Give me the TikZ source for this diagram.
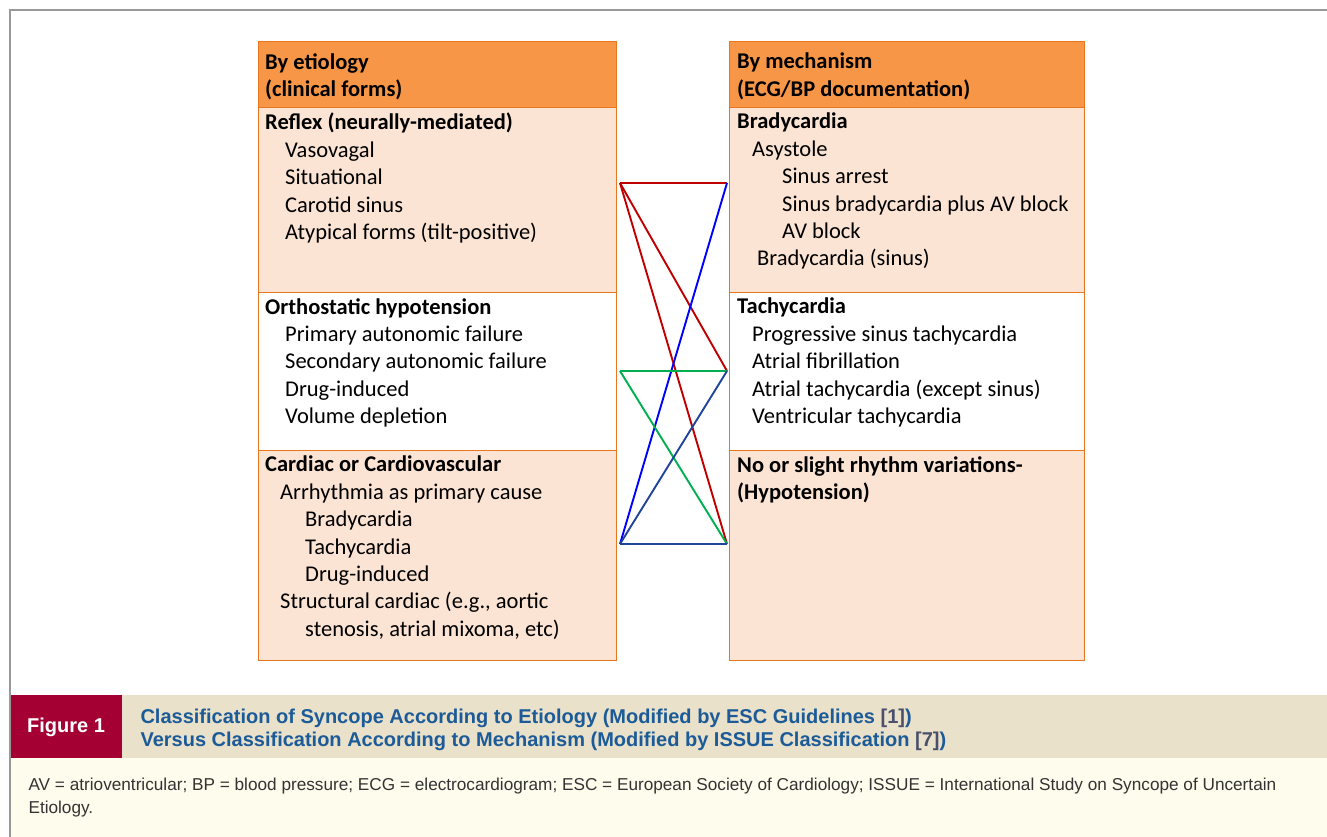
\documentclass[tikz,border=0pt]{standalone}
\usepackage{fontspec}
\setmainfont{Carlito}
\newfontfamily\capfont{Liberation Sans}
\definecolor{hdr}{HTML}{F79646}
\definecolor{peach}{HTML}{FCE4D4}
\definecolor{edge}{HTML}{E8761E}
\definecolor{figred}{HTML}{A50034}
\definecolor{bar}{HTML}{E9E1C9}
\definecolor{note}{HTML}{FEFCEC}
\definecolor{ttl}{HTML}{1C5B98}
\definecolor{refc}{HTML}{4B4F6B}
\definecolor{lred}{HTML}{C00000}
\definecolor{lblue}{HTML}{0000FF}
\definecolor{lgreen}{HTML}{00B050}
\definecolor{ldblue}{HTML}{1F4499}
\tikzset{
  cell/.style={draw=edge, line width=1.1pt, anchor=north west, inner sep=0pt},
  txt/.style={anchor=north west, align=left, inner sep=0pt, font=\fontsize{22.5}{27.4}\selectfont},
  link/.style={line width=1.9pt}
}
\begin{document}
\begin{tikzpicture}[x=1pt,y=-1pt]
\useasboundingbox (0,0) rectangle (1327,837);

\draw[gray!80, line width=1.2pt](10,837)--(10,10)--(1327,10);

% left column
\node[cell, fill=hdr, minimum width=358, minimum height=66] (lhead) at (258,41) {};
\node[cell, fill=peach, minimum width=358, minimum height=185] (lrefl) at (258,107) {};
\node[cell, fill=white, minimum width=358, minimum height=158] (lorth) at (258,292) {};
\node[cell, fill=peach, minimum width=358, minimum height=210] (lcard) at (258,450) {};

\node[txt] (lheadt) at (265,53) {\textbf{By etiology}\\\textbf{(clinical forms)}};
\node[txt] (lreflt) at (265,113) {\textbf{Reflex (neurally-mediated)}\\
\hspace*{20pt}Vasovagal\\
\hspace*{20pt}Situational\\
\hspace*{20pt}Carotid sinus\\
\hspace*{20pt}Atypical forms (tilt-positive)};
\node[txt] (lortht) at (265,298) {\textbf{Orthostatic hypotension}\\
\hspace*{20pt}Primary autonomic failure\\
\hspace*{20pt}Secondary autonomic failure\\
\hspace*{20pt}Drug-induced\\
\hspace*{20pt}Volume depletion};
\node[txt] (lcardt) at (265,456) {\textbf{Cardiac or Cardiovascular}\\
\hspace*{15pt}Arrhythmia as primary cause\\
\hspace*{40pt}Bradycardia\\
\hspace*{40pt}Tachycardia\\
\hspace*{40pt}Drug-induced\\
\hspace*{15pt}Structural cardiac (e.g., aortic\\
\hspace*{40pt}stenosis, atrial mixoma, etc)};

% right column
\node[cell, fill=hdr, minimum width=355, minimum height=66] (rhead) at (729,41) {};
\node[cell, fill=peach, minimum width=355, minimum height=185] (rbrad) at (729,107) {};
\node[cell, fill=white, minimum width=355, minimum height=158] (rtach) at (729,292) {};
\node[cell, fill=peach, minimum width=355, minimum height=210] (rnone) at (729,450) {};

\node[txt] (rheadt) at (737,53) {\textbf{By mechanism}\\\textbf{(ECG/BP documentation)}};
\node[txt] (rbradt) at (737,113) {\textbf{Bradycardia}\\
\hspace*{15pt}Asystole\\
\hspace*{45pt}Sinus arrest\\
\hspace*{45pt}Sinus bradycardia plus AV block\\
\hspace*{45pt}AV block\\
\hspace*{20pt}Bradycardia (sinus)};
\node[txt] (rtacht) at (737,298) {\textbf{Tachycardia}\\
\hspace*{15pt}Progressive sinus tachycardia\\
\hspace*{15pt}Atrial fibrillation\\
\hspace*{15pt}Atrial tachycardia (except sinus)\\
\hspace*{15pt}Ventricular tachycardia};
\node[txt] (rnonet) at (737,456) {\textbf{No or slight rhythm variations-}\\
\textbf{(Hypotension)}};

% links
\coordinate (l1) at (620,183);
\coordinate (l2) at (620,371);
\coordinate (l3) at (620,544);
\coordinate (r1) at (727,183);
\coordinate (r2) at (727,371);
\coordinate (r3) at (727,544);
\draw[link, lred](l1)--(r1);
\draw[link, lred](l1)--(r2);
\draw[link, lred](l1)--(r3);
\draw[link, lblue](l3)--(r1);
\draw[link, lgreen](l2)--(r2);
\draw[link, lgreen](l2)--(r3);
\draw[link, ldblue](l3)--(r2);
\draw[link, ldblue](l3)--(r3);

% caption
\fill[figred](10,695) rectangle (122,758);
\fill[bar](122,695) rectangle (1327,758);
\fill[note](10,758) rectangle (1327,837);
\draw[gray!80, line width=1.2pt](10,695)--(10,837);
\node[text=white, font=\capfont\bfseries\fontsize{20}{23}\selectfont] (fig) at (66,727) {Figure 1};
\node[anchor=west, align=left, text=ttl, font=\capfont\bfseries\fontsize{20}{23}\selectfont] (title) at (137,729.5)
  {Classification of Syncope According to Etiology (Modified by ESC Guidelines {\color{refc}[1]})\\
   Versus Classification According to Mechanism (Modified by ISSUE Classification {\color{refc}[7]})};
\node[anchor=west, align=left, text=black!80, font=\capfont\fontsize{17.2}{23}\selectfont] (abbr) at (25,798)
  {AV = atrioventricular; BP = blood pressure; ECG = electrocardiogram; ESC = European Society of Cardiology; ISSUE = International Study on Syncope of Uncertain\\
   Etiology.};
\end{tikzpicture}
\end{document}
